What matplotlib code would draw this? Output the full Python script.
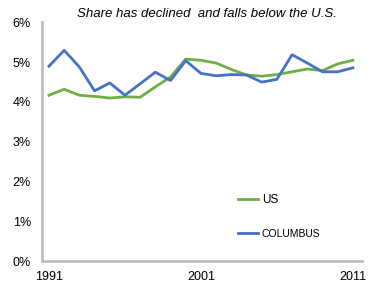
import numpy as np
import matplotlib.pyplot as plt

plt.rcParams['font.family'] = ['Liberation Sans', 'DejaVu Sans']

years = np.arange(1991, 2012)
us = [4.17, 4.32, 4.17, 4.14, 4.10, 4.13, 4.12, 4.38, 4.63, 5.08, 5.05,
      4.98, 4.82, 4.68, 4.65, 4.69, 4.76, 4.83, 4.79, 4.96, 5.05]
columbus = [4.90, 5.30, 4.88, 4.28, 4.48, 4.17, 4.46, 4.75, 4.54, 5.04, 4.72,
            4.66, 4.69, 4.68, 4.50, 4.57, 5.19, 4.98, 4.76, 4.76, 4.86]
xticks = [1991, 2001, 2011]
title = "Share has declined  and falls below the U.S."

fig = plt.figure(figsize=(3.78, 2.94), dpi=100)
ax = fig.add_axes([42/378, 33/294, 320/378, 238.5/294])

ax.plot(years, np.array(us) / 100, color='#70AD47', lw=2, label='US')
ax.plot(years, np.array(columbus) / 100, color='#4472C4', lw=2, label='COLUMBUS')

ax.set_xlim(1990.54, 2011.6)
ax.set_ylim(0, 0.06)
ax.set_yticks(np.arange(0, 0.061, 0.01))
ax.set_yticklabels([f'{i}%' for i in range(7)])
ax.set_xticks(xticks)
ax.set_xticklabels([str(x) for x in xticks])
ax.tick_params(length=0, labelsize=9, pad=8)
ax.tick_params(axis='x', pad=7)

for s in ['top', 'right']:
    ax.spines[s].set_visible(False)
for s in ['left', 'bottom']:
    ax.spines[s].set_color('#BFBFBF')
    ax.spines[s].set_linewidth(2)

h, l = ax.get_legend_handles_labels()
leg = ax.legend(h, l, loc='upper left', bbox_to_anchor=(0.58, 0.326), frameon=False,
                fontsize=8.5, handlelength=1.7, handletextpad=0.3, labelspacing=1.95)
leg.get_texts()[1].set_fontsize(7.5)

fig.text(207/378, 1 - 14/294, title, ha='center', va='center',
         fontsize=9.5, style='italic')

fig.savefig('out.png', dpi=100)
